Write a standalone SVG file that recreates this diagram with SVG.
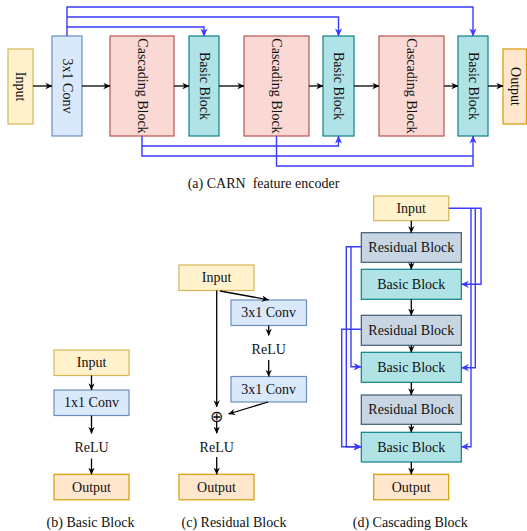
<svg xmlns="http://www.w3.org/2000/svg" width="527" height="531" viewBox="0 0 527 531">
<defs>
<marker id="ab" viewBox="0 0 10 10" refX="9.5" refY="5" markerWidth="7" markerHeight="7" markerUnits="userSpaceOnUse" orient="auto">
<path d="M0,0.5 L10,5 L0,9.5 L3,5 z" fill="#000"/>
</marker>
<marker id="ub" viewBox="0 0 10 10" refX="9.5" refY="5" markerWidth="8" markerHeight="8" markerUnits="userSpaceOnUse" orient="auto">
<path d="M0,0.5 L10,5 L0,9.5 L3,5 z" fill="#3b3bff"/>
</marker>
<style>
text{font-family:"Liberation Serif","Times New Roman",serif;font-size:14px;fill:#111;}
.c{text-anchor:middle;dominant-baseline:central;}
.inp{fill:#fff2cc;stroke:#d6b656;stroke-width:1.2;}
.out{fill:#ffe6cc;stroke:#d79b00;stroke-width:1.2;}
.conv{fill:#dae8fc;stroke:#6c8ebf;stroke-width:1.2;}
.casc{fill:#fad9d5;stroke:#b85450;stroke-width:1.2;}
.basic{fill:#b0e3e6;stroke:#0e8088;stroke-width:1.2;}
.res{fill:#c8d6e4;stroke:#3f5b74;stroke-width:1.2;}
.k{fill:none;stroke:#000;stroke-width:1.3;marker-end:url(#ab);}
.b{fill:none;stroke:#3b3bff;stroke-width:1.4;}
.ba{fill:none;stroke:#3b3bff;stroke-width:1.4;marker-end:url(#ub);}
.cap{text-anchor:middle;white-space:pre;}
</style>
</defs>

<!-- (a) CARN feature encoder -->
<g id="a-input"><rect class="inp" x="8" y="49" width="25" height="75"/><text class="c" transform="rotate(90 20.5 86.5)" x="20.5" y="86.5">Input</text></g>
<g id="a-conv"><rect class="conv" x="52" y="36" width="30" height="100"/><text class="c" transform="rotate(90 67 86)" x="67" y="86">3x1 Conv</text></g>
<g id="a-cb1"><rect class="casc" x="110" y="36" width="64" height="100"/><text class="c" transform="rotate(90 142 86)" x="142" y="86">Cascading Block</text></g>
<g id="a-bb1"><rect class="basic" x="189" y="36" width="30" height="100"/><text class="c" transform="rotate(90 204 86)" x="204" y="86">Basic Block</text></g>
<g id="a-cb2"><rect class="casc" x="244" y="36" width="65" height="100"/><text class="c" transform="rotate(90 276.5 86)" x="276.5" y="86">Cascading Block</text></g>
<g id="a-bb2"><rect class="basic" x="323" y="36" width="31" height="100"/><text class="c" transform="rotate(90 338.5 86)" x="338.5" y="86">Basic Block</text></g>
<g id="a-cb3"><rect class="casc" x="379" y="36" width="65" height="100"/><text class="c" transform="rotate(90 411.5 86)" x="411.5" y="86">Cascading Block</text></g>
<g id="a-bb3"><rect class="basic" x="458" y="36" width="30" height="100"/><text class="c" transform="rotate(90 473 86)" x="473" y="86">Basic Block</text></g>
<g id="a-output"><rect class="out" x="503" y="49" width="23.5" height="75"/><text class="c" transform="rotate(90 515 86.5)" x="515" y="86.5">Output</text></g>
<text class="cap" x="263.5" y="188">(a) CARN  feature encoder</text>

<!-- (b) Basic Block -->
<g id="b-input"><rect class="inp" x="54" y="350" width="75" height="25.5"/><text class="c" x="91.5" y="362.7">Input</text></g>
<g id="b-conv"><rect class="conv" x="54" y="390" width="75" height="25.5"/><text class="c" x="91.5" y="402.7">1x1 Conv</text></g>
<g id="b-relu"><text class="c" x="91.5" y="447.5">ReLU</text></g>
<g id="b-output"><rect class="out" x="54" y="474.3" width="75" height="25.5"/><text class="c" x="91.5" y="487">Output</text></g>
<text class="cap" x="90.5" y="527">(b) Basic Block</text>

<!-- (c) Residual Block -->
<g id="c-input"><rect class="inp" x="179" y="265" width="75" height="25.5"/><text class="c" x="216.5" y="277.7">Input</text></g>
<g id="c-conv1"><rect class="conv" x="231" y="300" width="75.5" height="25.5"/><text class="c" x="268.7" y="312.7">3x1 Conv</text></g>
<g id="c-relu1"><text class="c" x="268.7" y="349.3">ReLU</text></g>
<g id="c-conv2"><rect class="conv" x="231" y="376.5" width="75.5" height="25.5"/><text class="c" x="268.7" y="389.2">3x1 Conv</text></g>
<g id="c-add"><text class="c" x="216.4" y="416.7" style="font-family:'DejaVu Sans',sans-serif;font-size:16px;font-weight:300">⊕</text></g>
<g id="c-relu2"><text class="c" x="216.7" y="447.3">ReLU</text></g>
<g id="c-output"><rect class="out" x="179" y="474.3" width="75" height="25.5"/><text class="c" x="216.5" y="487">Output</text></g>
<text class="cap" x="234" y="527">(c) Residual Block</text>

<!-- (d) Cascading Block -->
<g id="d-input"><rect class="inp" x="373.7" y="196" width="75" height="24.7"/><text class="c" x="411.2" y="208.3">Input</text></g>
<g id="d-res1"><rect class="res" x="361.3" y="232.7" width="100" height="29.6"/><text class="c" x="411.3" y="247.5">Residual Block</text></g>
<g id="d-bb1"><rect class="basic" x="361.3" y="269.3" width="100" height="30"/><text class="c" x="411.3" y="284.3">Basic Block</text></g>
<g id="d-res2"><rect class="res" x="361.3" y="315.3" width="100" height="30"/><text class="c" x="411.3" y="330.3">Residual Block</text></g>
<g id="d-bb2"><rect class="basic" x="361.3" y="352.3" width="100" height="30"/><text class="c" x="411.3" y="367.3">Basic Block</text></g>
<g id="d-res3"><rect class="res" x="361.3" y="395" width="100" height="29.3"/><text class="c" x="411.3" y="409.7">Residual Block</text></g>
<g id="d-bb3"><rect class="basic" x="361.3" y="432.3" width="100" height="29.7"/><text class="c" x="411.3" y="447.2">Basic Block</text></g>
<g id="d-output"><rect class="out" x="373.7" y="474.3" width="75" height="25.5"/><text class="c" x="411.2" y="487">Output</text></g>
<text class="cap" x="410.3" y="527">(d) Cascading Block</text>

<g id="connectors">
<!-- (a) black -->
<path class="k" d="M33,86 H52"/>
<path class="k" d="M82,86 H110"/>
<path class="k" d="M174,86 H189"/>
<path class="k" d="M219,86 H244"/>
<path class="k" d="M309,86 H323"/>
<path class="k" d="M354,86 H379"/>
<path class="k" d="M444,86 H458"/>
<path class="k" d="M488,86 H503"/>
<!-- (a) blue -->
<path class="ba" d="M67,36 V7 H473 V36"/>
<path class="ba" d="M67,17 H338.5 V36"/>
<path class="ba" d="M67,27 H204 V36"/>
<path class="ba" d="M142,136 V146 H338.5 V136"/>
<path class="ba" d="M142,146 V156 H473 V136"/>
<path class="b" d="M276.5,136 V166 H473 V156"/>
<!-- (b) -->
<path class="k" d="M91.5,375.5 V390"/>
<path class="k" d="M91.5,415.5 V433.5"/>
<path class="k" d="M91.5,458.5 V474.3"/>
<!-- (c) -->
<path class="k" d="M216.7,290.5 V407"/>
<path class="k" d="M220,291 L268.5,299.8"/>
<path class="k" d="M268.7,325.5 V335.5"/>
<path class="k" d="M268.7,360 V376.5"/>
<path class="k" d="M268,402 L228.5,414"/>
<path class="k" d="M216.7,422 V433.3"/>
<path class="k" d="M216.7,457 V474.3"/>
<!-- (d) black -->
<path class="k" d="M411.3,220.7 V232.7"/>
<path class="k" d="M411.3,262.3 V269.3"/>
<path class="k" d="M411.3,299.3 V315.3"/>
<path class="k" d="M411.3,345.3 V352.3"/>
<path class="k" d="M411.3,382.3 V395"/>
<path class="k" d="M411.3,424.3 V432.3"/>
<path class="k" d="M411.3,462 V474.3"/>
<!-- (d) blue left -->
<path class="ba" d="M361.3,246.7 H351 V366.7 H361.3"/>
<path class="ba" d="M351,246.7 H346.3 V446.7 H361.3"/>
<path class="ba" d="M361.3,329.3 H341.7 V446.7 H361.3"/>
<!-- (d) blue right -->
<path class="ba" d="M448.7,208.3 H481 V284.3 H461.3"/>
<path class="ba" d="M475.3,208.3 V367.7 H461.3"/>
<path class="ba" d="M471,208.3 V446.7 H461.3"/>
</g>
</svg>
